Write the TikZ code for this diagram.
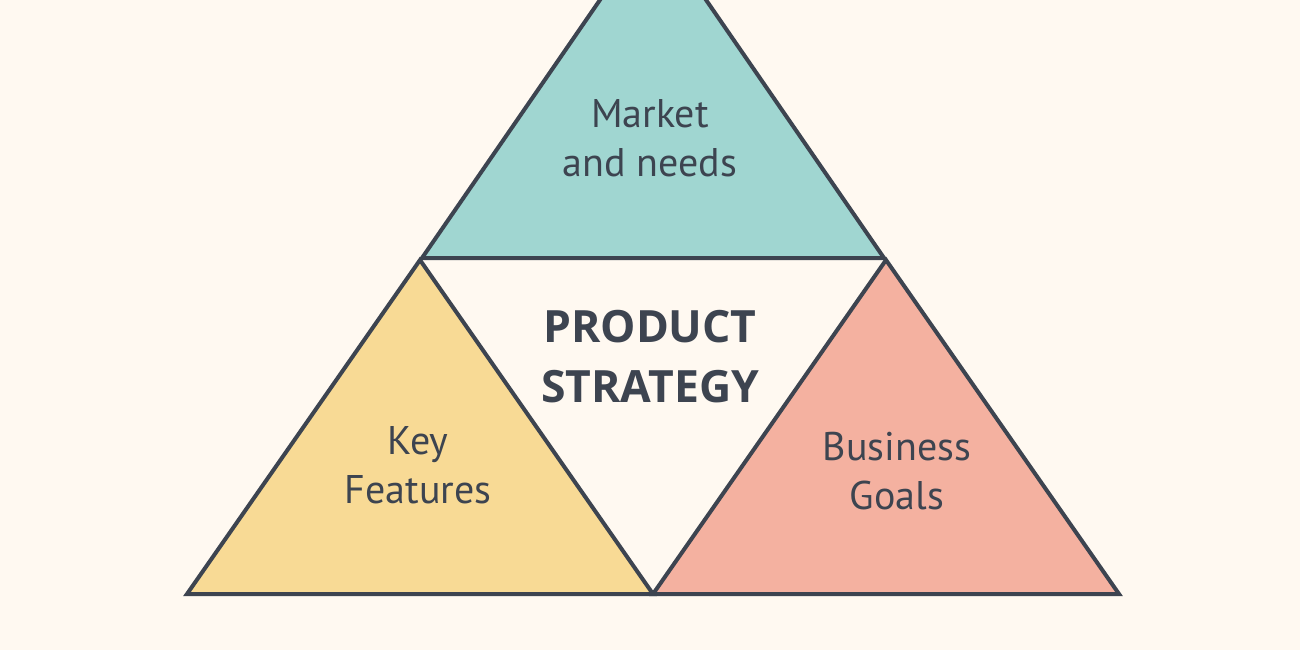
\documentclass[tikz,border=0pt]{standalone}
\usepackage{fontspec}
\setmainfont{PT Sans}
\newfontfamily\headfont{Open Sans}
\definecolor{bgc}{HTML}{FFF9F1}
\definecolor{edge}{HTML}{3D4450}
\definecolor{tealc}{HTML}{A0D6D1}
\definecolor{yellc}{HTML}{F8DA95}
\definecolor{salmc}{HTML}{F4B1A0}
\tikzset{
  tri/.style={draw=edge, line width=4pt, line join=miter},
  lbl/.style={text=edge, align=center, font=\fontsize{40}{49}\selectfont},
  head/.style={text=edge, align=center, font=\headfont\bfseries\fontsize{44.5}{60}\selectfont}
}
\begin{document}
\begin{tikzpicture}[x=1pt,y=-1pt]
\fill[bgc] (0,0) rectangle (1300,650);
\useasboundingbox (0,0) rectangle (1300,650);
\coordinate (tA) at (653,-77);
\coordinate (tL) at (422,258);
\coordinate (tR) at (884,258);
\coordinate (lA) at (420,260);
\coordinate (lL) at (187,594);
\coordinate (lR) at (653,594);
\coordinate (rA) at (886,260);
\coordinate (rL) at (653,594);
\coordinate (rR) at (1119,594);
\begin{scope}
\clip (0,0) rectangle (1300,650);
\filldraw[tri, fill=tealc] (tA) -- (tL) -- (tR) -- cycle;
\end{scope}
\filldraw[tri, fill=yellc] (lA) -- (lL) -- (lR) -- cycle;
\filldraw[tri, fill=salmc] (rA) -- (rL) -- (rR) -- cycle;
\node[lbl] (market) at (650,138) {Market\\and needs};
\node[lbl] (key) at (418,465) {Key\\Features};
\node[lbl] (biz) at (897,471) {Business\\Goals};
\node[head] (prod) at (650,357) {PRODUCT\\STRATEGY};
\end{tikzpicture}
\end{document}
